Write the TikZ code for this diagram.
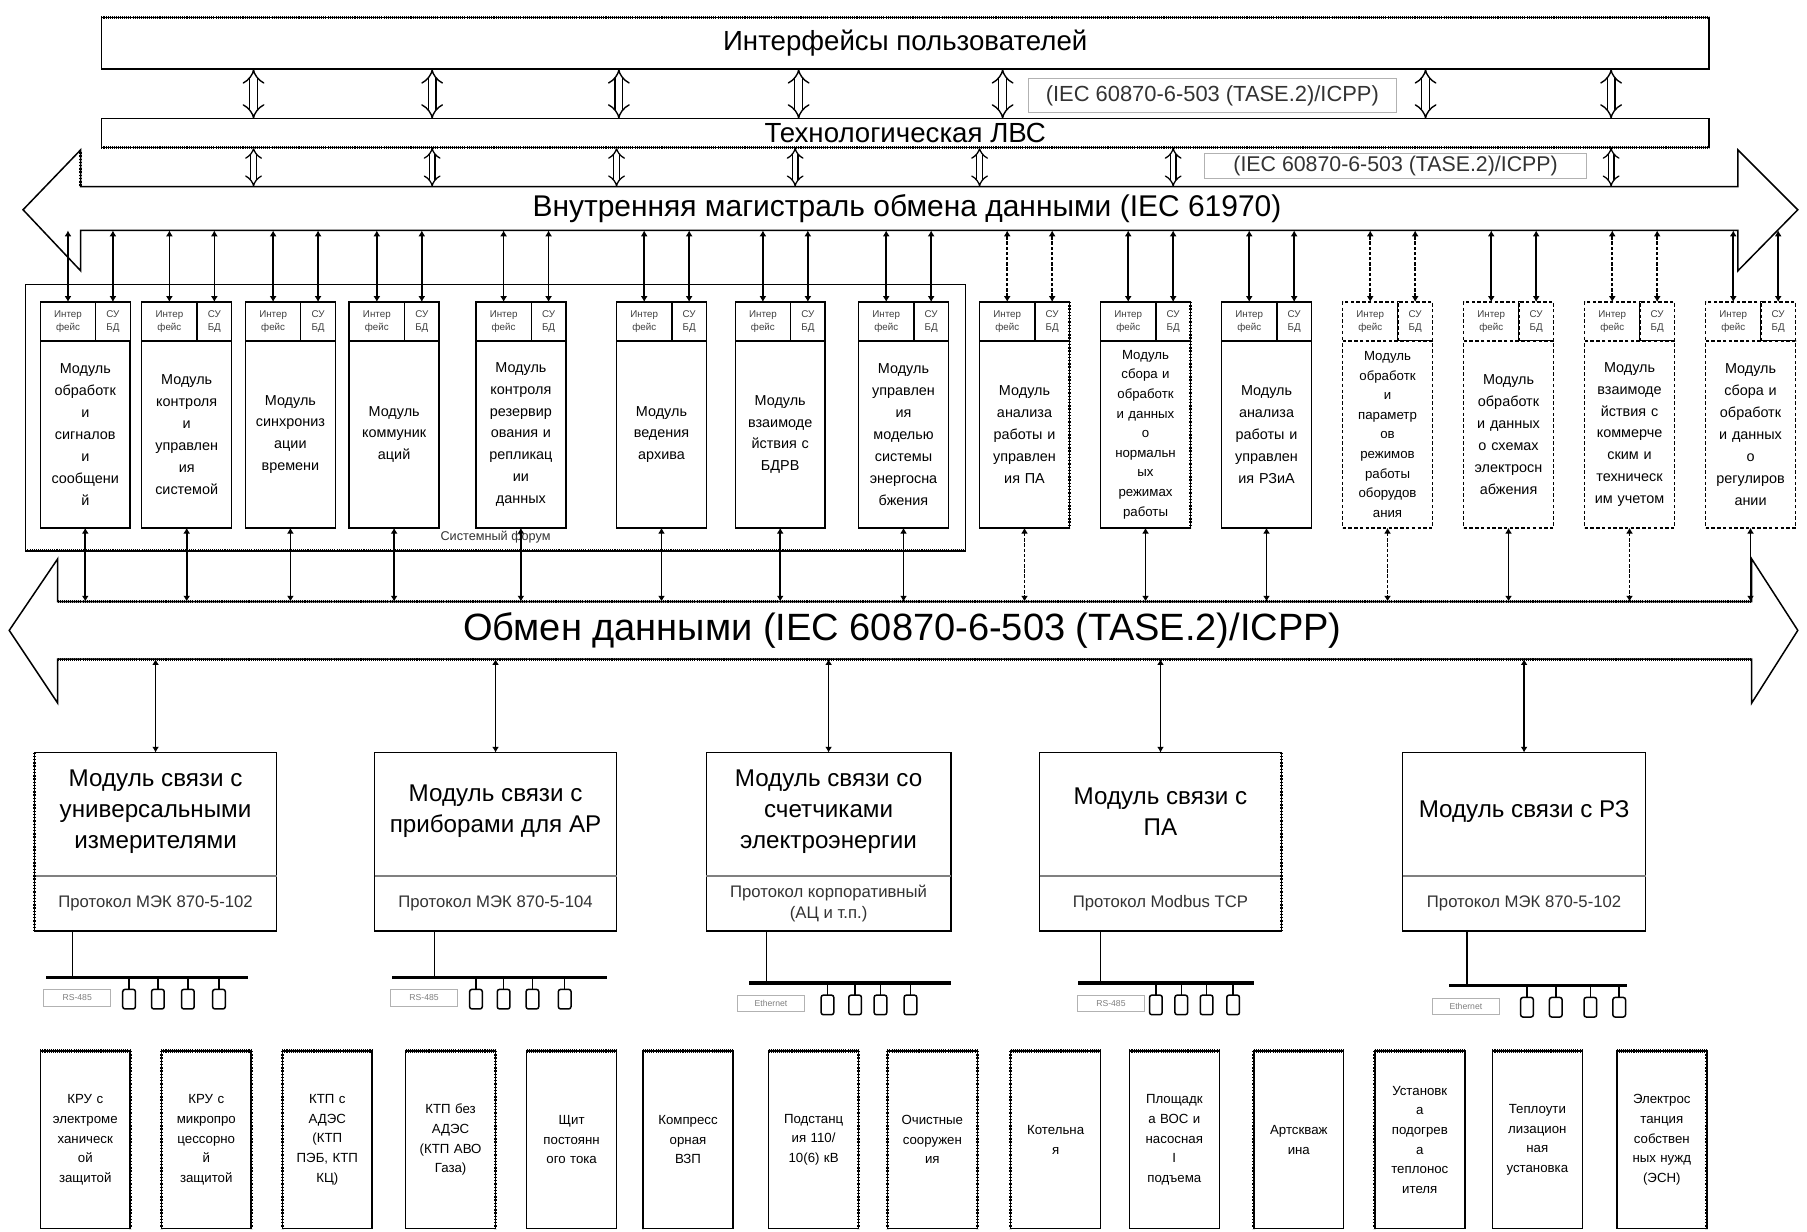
\documentclass[tikz,border=0pt]{standalone}
\usepackage{fontspec}
\setmainfont{Liberation Sans}
\usetikzlibrary{arrows.meta}
\newcommand{\fsz}[2]{\fontsize{#1}{#2}\selectfont}
% module of the middle row
\newcommand{\topmod}[6]{%
  \node[hdr, minimum width=48pt, anchor=north west, #4] (I#1) at (#2,262) {Интер\\фейс};
  \node[hdr, minimum width=30pt, anchor=north west, #4] (S#1) at (#2+48,262) {СУ\\БД};
  \node[mbody, anchor=north west, #4, font=#6] (M#1) at (#2,296) {#3};
  \draw[#5] (I#1.north) -- (I#1.north |- bA);
  \draw[#5] (S#1.north) -- (S#1.north |- bA);
  \draw[#5] (M#1.south) -- (M#1.south |- bB);
}
% communication module of the lower row
\newcommand{\botmod}[6]{%
  \node[box, minimum width=#3pt, minimum height=155pt, anchor=north west, #6] (#1) at (#2,653) {};
  \draw[gray, line width=1.5pt] ([yshift=-107pt]#1.north west) -- ([yshift=-107pt]#1.north east);
  \node[font=\fsz{21}{27}, align=center] (#1t) at ([yshift=-51pt]#1.north) {#4};
  \node[font=\fsz{14.5}{18}, align=center, text=black!80] (#1p) at ([yshift=-131pt]#1.north) {#5};
  \draw[conn] (#1.north) -- (#1.north |- bC);
}
% field network under a communication module
\newcommand{\netw}[9]{%
  \coordinate (p#1) at (#3,0);
  \node[bus, minimum width=#5pt, anchor=west] (bus#1) at (#4,#6) {};
  \draw[link] (#2.south -| p#1) -- (bus#1.north -| p#1);
  \node[net, minimum width=58pt] (lab#1) at (#7,#6+18) {#8};
  \foreach \d [count=\k] in {#9} {
    \node[dev] (dev#1\k) at (\d,#6+19) {};
    \draw[link] (dev#1\k.north) -- (dev#1\k.north |- bus#1.south);
  }
}
% object box of the bottom row
\newcommand{\botbox}[4]{%
  \node[bbox, anchor=north west, #4] (B#1) at (#2,912) {#3};
  \draw[hatch] (B#1.north west) -- (B#1.north east);
}
\begin{document}
\begin{tikzpicture}[x=1pt,y=-1pt,
  every node/.style={inner sep=0pt,outer sep=0pt},
  box/.style={draw,line width=1.3pt,fill=white},
  hatch/.style={line width=2.8pt,dash pattern=on 0.9pt off 0.9pt},
  vhatch/.style={line width=2.4pt,dash pattern=on 1.2pt off 1.6pt},
  dbl/.style={double distance=5.5pt,line width=1.2pt,{Implies[length=7pt,width=16pt]}-{Implies[length=7pt,width=16pt]}},
  dbls/.style={double distance=4pt,line width=1.1pt,{Implies[length=6pt,width=13pt]}-{Implies[length=6pt,width=13pt]}},
  conn/.style={line width=1.4pt,{Latex[length=5pt,width=6pt]}-{Latex[length=5pt,width=6pt]}},
  connd/.style={conn,dash pattern=on 3pt off 1.5pt},
  iec/.style={draw=gray!60,line width=0.9pt,fill=white,text=black!80},
  hdr/.style={draw,line width=1.2pt,fill=white,minimum height=34pt,align=center,font=\fsz{8.5}{11},text=black!75},
  mbody/.style={draw,line width=1.3pt,fill=white,minimum width=78pt,minimum height=162pt,text width=76pt,align=center},
  bbox/.style={draw,line width=1.3pt,fill=white,minimum width=78pt,minimum height=154pt,text width=76pt,align=center,font=\fsz{11.5}{17}},
  bus/.style={fill=black,minimum height=3pt},
  dev/.style={draw,line width=1.3pt,rounded corners=2pt,minimum width=11pt,minimum height=17pt,fill=white},
  net/.style={draw=gray!60,line width=0.8pt,fill=white,minimum height=14pt,font=\fsz{7.5}{8},text=gray},
  link/.style={line width=1.3pt}
]
\fill[white] (0,0) rectangle (1568,1069);
\useasboundingbox (0,0) rectangle (1568,1069);

\coordinate (aT) at (0,162);
\coordinate (bA) at (0,200);
\coordinate (bB) at (0,522);
\coordinate (bC) at (0,572);

% ---- big arrows ----
\draw[line width=1.3pt, fill=white] (70,162) -- (1508,162) -- (1508,130) -- (1560,182) -- (1508,235) -- (1508,200)
  -- (70,200) -- (70,235) -- (20,182) -- (70,130) -- cycle;
\draw[vhatch] (70,132) -- (70,162);
\node[font=\fsz{26}{30}] (ar1) at (787,181) {Внутренняя магистраль обмена данными (IEC 61970)};

\draw[line width=1.3pt, fill=white] (50,522) -- (1520,522) -- (1520,485) -- (1560,547) -- (1520,610) -- (1520,572)
  -- (50,572) -- (50,610) -- (8,547) -- (50,485) -- cycle;
\draw[hatch] (50,522) -- (1520,522);
\draw[hatch] (50,572) -- (1520,572);
\node[font=\fsz{33}{36}] (ar2) at (783,547) {Обмен данными (IEC 60870-6-503 (TASE.2)/ICPP)};

% ---- top boxes ----
\node[box, minimum width=1395pt, minimum height=45pt, anchor=north west, font=\fsz{24}{26}] (ui) at (88,15) {Интерфейсы пользователей};
\draw[hatch] (ui.north west) -- (ui.north east);
\draw[vhatch] (ui.north east) -- (ui.south east);
\node[box, minimum width=1395pt, minimum height=25pt, anchor=north west, font=\fsz{24}{26}] (lvs) at (88,103) {Технологическая ЛВС};
\draw[hatch] (lvs.south west) -- (lvs.south east);
\draw[vhatch] (lvs.north east) -- (lvs.south east);

\foreach \x [count=\n] in {220,375,537,693,870,1237,1398} {
  \coordinate (ca\n) at (\x,0);
  \draw[dbl] (ui.south -| ca\n) -- (lvs.north -| ca\n);
}
\node[iec, minimum width=319pt, minimum height=30pt, font=\fsz{19}{22}] (iec1) at (1052,83) {(IEC 60870-6-503 (TASE.2)/ICPP)};

\foreach \x [count=\n] in {220,375,535,690,850,1018,1398} {
  \coordinate (cb\n) at (\x,0);
  \draw[dbls] (lvs.south -| cb\n) -- (aT -| cb\n);
}
\node[iec, minimum width=332pt, minimum height=22pt, font=\fsz{18.5}{20}] (iec2) at (1211,144) {(IEC 60870-6-503 (TASE.2)/ICPP)};

% ---- system frame ----
\node[draw, line width=1.2pt, minimum width=816pt, minimum height=231pt, anchor=north west] (sys) at (22,247) {};
\draw[hatch] (sys.south west) -- (sys.south east);
\node[font=\fsz{11}{12}, text=black!80, fill=white, inner sep=1pt] (syst) at (430,466) {Системный форум};

% ---- modules ----
\topmod{1}{35}{Модуль\\обработк\\и\\сигналов\\и\\сообщени\\й}{}{conn}{\fsz{12.5}{19}}
\topmod{2}{123}{Модуль\\контроля\\и\\управлен\\ия\\системой}{}{conn}{\fsz{12.5}{19}}
\topmod{3}{213}{Модуль\\синхрониз\\ации\\времени}{}{conn}{\fsz{12.5}{19}}
\topmod{4}{303}{Модуль\\коммуник\\аций}{}{conn}{\fsz{12.5}{19}}
\topmod{5}{413}{Модуль\\контроля\\резервир\\ования и\\репликац\\ии\\данных}{}{conn}{\fsz{12.5}{19}}
\topmod{6}{535}{Модуль\\ведения\\архива}{}{conn}{\fsz{12.5}{19}}
\topmod{7}{638}{Модуль\\взаимоде\\йствия с\\БДРВ}{}{conn}{\fsz{12.5}{19}}
\topmod{8}{745}{Модуль\\управлен\\ия\\моделью\\системы\\энергосна\\бжения}{}{conn}{\fsz{12.5}{19}}
\topmod{9}{850}{Модуль\\анализа\\работы и\\управлен\\ия ПА}{}{connd}{\fsz{12.5}{19}}
\topmod{10}{955}{Модуль\\сбора и\\обработк\\и данных\\о\\нормальн\\ых\\режимах\\работы}{}{conn}{\fsz{11.5}{17}}
\topmod{11}{1060}{Модуль\\анализа\\работы и\\управлен\\ия РЗиА}{}{conn}{\fsz{12.5}{19}}
\topmod{12}{1165}{Модуль\\обработк\\и\\параметр\\ов\\режимов\\работы\\оборудов\\ания}{densely dashed}{connd}{\fsz{11.5}{17}}
\topmod{13}{1270}{Модуль\\обработк\\и данных\\о схемах\\электросн\\абжения}{densely dashed}{conn}{\fsz{12.5}{19}}
\topmod{14}{1375}{Модуль\\взаимоде\\йствия с\\коммерче\\ским и\\техническ\\им учетом}{densely dashed}{connd}{\fsz{12.5}{19}}
\topmod{15}{1480}{Модуль\\сбора и\\обработк\\и данных\\о\\регулиров\\ании}{densely dashed}{conn}{\fsz{12.5}{19}}
\draw[vhatch] (S9.north east) -- (M9.south east);
\draw[vhatch] (S10.north east) -- (M10.south east);

% ---- communication modules ----
\botmod{bmA}{30}{210}{Модуль связи с\\универсальными\\измерителями}{Протокол МЭК 870-5-102}{}
\botmod{bmB}{325}{210}{Модуль связи с\\приборами для АР}{Протокол МЭК 870-5-104}{}
\botmod{bmC}{613}{212}{Модуль связи со\\счетчиками\\электроэнергии}{Протокол корпоративный\\(АЦ и т.п.)}{}
\botmod{bmD}{902}{210}{Модуль связи с\\ПА}{Протокол Modbus TCP}{}
\botmod{bmE}{1217}{211}{Модуль связи с РЗ}{Протокол МЭК 870-5-102}{}
\draw[vhatch] (bmA.north west) -- (bmA.south west);
\draw[vhatch] (bmD.north east) -- (bmD.south east);

% ---- field networks ----
\netw{A}{bmA}{63}{40}{175}{848}{67}{RS-485}{112,137,163,190}
\netw{B}{bmB}{377}{340}{187}{848}{368}{RS-485}{413,437,462,490}
\netw{C}{bmC}{665}{650}{175}{853}{669}{Ethernet}{718,742,764,790}
\netw{D}{bmD}{955}{935}{153}{853}{964}{RS-485}{1003,1025,1047,1070}
\netw{E}{bmE}{1273}{1257}{155}{855}{1272}{Ethernet}{1325,1350,1380,1405}

% ---- objects ----
\botbox{1}{35}{КРУ с\\электроме\\ханическ\\ой\\защитой}{}
\botbox{2}{140}{КРУ с\\микропро\\цессорно\\й\\защитой}{}
\botbox{3}{245}{КТП с\\АДЭС\\(КТП\\ПЭБ, КТП\\КЦ)}{}
\botbox{4}{352}{КТП без\\АДЭС\\(КТП АВО\\Газа)}{}
\botbox{5}{457}{Щит\\постоянн\\ого тока}{}
\botbox{6}{558}{Компресс\\орная\\ВЗП}{}
\botbox{7}{667}{Подстанц\\ия 110/\\10(6) кВ}{}
\botbox{8}{770}{Очистные\\сооружен\\ия}{}
\botbox{9}{877}{Котельна\\я}{}
\botbox{10}{980}{Площадк\\а ВОС и\\насосная\\I\\подъема}{}
\botbox{11}{1088}{Артскваж\\ина}{}
\botbox{12}{1193}{Установк\\а\\подогрев\\а\\теплонос\\ителя}{}
\botbox{13}{1295}{Теплоути\\лизацион\\ная\\установка}{}
\botbox{14}{1403}{Электрос\\танция\\собствен\\ных нужд\\(ЭСН)}{}
\foreach \k in {1,2,4,7,8,14} { \draw[vhatch] (B\k.north east) -- (B\k.south east); }
\foreach \k in {2,3,6,8,9,11,12} { \draw[vhatch] (B\k.north west) -- (B\k.south west); }
\end{tikzpicture}
\end{document}
